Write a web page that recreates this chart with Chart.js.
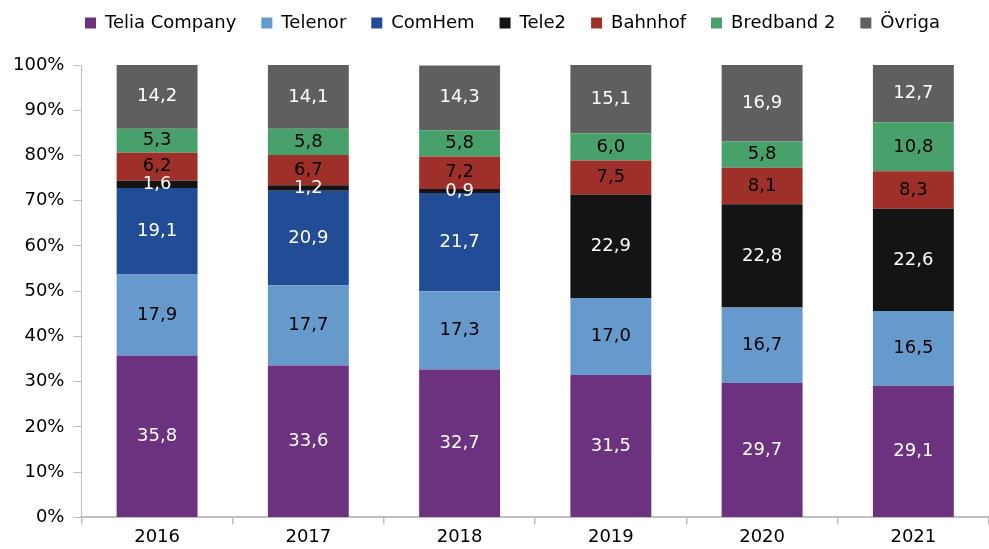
<!doctype html>
<html lang="sv">
  <head>
    <meta charset="utf-8">
    <title>Marknadsandelar bredband</title>
    <style>
      * { margin: 0; padding: 0; }
      body { background: #fff; }
      .chartBox { width: 989px; height: 549px; }
    </style>
  </head>
  <body>
    <div class="chartBox">
      <canvas id="myChart"></canvas>
    </div>
    <script src="https://cdn.jsdelivr.net/npm/chart.js"></script>
    <script>
    // data
    const years = ['2016', '2017', '2018', '2019', '2020', '2021'];
    const telia = [35.8, 33.6, 32.7, 31.5, 29.7, 29.1];
    const telenor = [17.9, 17.7, 17.3, 17.0, 16.7, 16.5];
    const comhem = [19.1, 20.9, 21.7, null, null, null];
    const tele2 = [1.6, 1.2, 0.9, 22.9, 22.8, 22.6];
    const bahnhof = [6.2, 6.7, 7.2, 7.5, 8.1, 8.3];
    const bredband2 = [5.3, 5.8, 5.8, 6.0, 5.8, 10.8];
    const ovriga = [14.2, 14.1, 14.3, 15.1, 16.9, 12.7];
    const yTicks = [0, 10, 20, 30, 40, 50, 60, 70, 80, 90, 100];

    const FONT = "'DejaVu Sans', sans-serif";

    function series(label, values, color, textColor) {
      return {
        label,
        data: values,
        backgroundColor: color,
        borderWidth: 0,
        barPercentage: 0.535,
        categoryPercentage: 1,
        textColor
      };
    }

    const data = {
      labels: years,
      datasets: [
        series('Telia Company', telia, '#6c3280', '#fff'),
        series('Telenor', telenor, '#6699cc', '#000'),
        series('ComHem', comhem, '#234c96', '#fff'),
        series('Tele2', tele2, '#141414', '#fff'),
        series('Bahnhof', bahnhof, '#9e3029', '#000'),
        series('Bredband 2', bredband2, '#48a06b', '#000'),
        series('Övriga', ovriga, '#5f5f5f', '#fff')
      ]
    };

    // value labels in the middle of each segment
    const segmentLabels = {
      id: 'segmentLabels',
      afterDatasetsDraw(chart) {
        const ctx = chart.ctx;
        ctx.save();
        ctx.font = '18px ' + FONT;
        ctx.textAlign = 'center';
        ctx.textBaseline = 'middle';
        chart.data.datasets.forEach((ds, i) => {
          const meta = chart.getDatasetMeta(i);
          meta.data.forEach((bar, j) => {
            const v = ds.data[j];
            if (v === null || v === undefined) return;
            ctx.fillStyle = ds.textColor;
            ctx.fillText(v.toFixed(1).replace('.', ','), bar.x, (bar.y + bar.base) / 2);
          });
        });
        ctx.restore();
      }
    };

    // extra room under the legend, legend nudged right over the plot
    const legendTweak = {
      id: 'legendTweak',
      beforeInit(chart) {
        const legend = chart.legend;
        const fit = legend.fit;
        legend.fit = function () {
          fit.call(this);
          this.height += 23;
        };
        const draw = legend.draw;
        legend.draw = function () {
          const ctx = this.ctx;
          ctx.save();
          ctx.translate(16, 0);
          draw.call(this);
          ctx.restore();
        };
      }
    };

    const config = {
      type: 'bar',
      data,
      options: {
        responsive: true,
        maintainAspectRatio: false,
        animation: false,
        layout: { padding: { top: -11, right: 0, left: 4, bottom: -1 } },
        plugins: {
          legend: {
            position: 'top',
            labels: {
              color: '#000',
              font: { family: FONT, size: 18 },
              boxWidth: 11,
              boxHeight: 11,
              padding: 25
            }
          },
          tooltip: { enabled: false }
        },
        scales: {
          x: {
            stacked: true,
            grid: {
              display: true,
              drawOnChartArea: false,
              tickLength: 7,
              color: '#bfbfbf',
              lineWidth: 1.5
            },
            border: { color: '#bfbfbf', width: 2 },
            ticks: {
              color: '#000',
              font: { family: FONT, size: 18 },
              padding: 2
            }
          },
          y: {
            stacked: true,
            min: 0,
            max: 100,
            afterBuildTicks: axis => { axis.ticks = yTicks.map(v => ({ value: v })); },
            grid: {
              display: true,
              drawOnChartArea: false,
              tickLength: 8,
              color: '#bfbfbf'
            },
            border: { color: '#bfbfbf', width: 1 },
            ticks: {
              color: '#000',
              font: { family: FONT, size: 18 },
              padding: 9,
              callback: v => v + '%'
            }
          }
        }
      },
      plugins: [segmentLabels, legendTweak]
    };

    const myChart = new Chart(document.getElementById('myChart'), config);
    </script>
  </body>
</html>
